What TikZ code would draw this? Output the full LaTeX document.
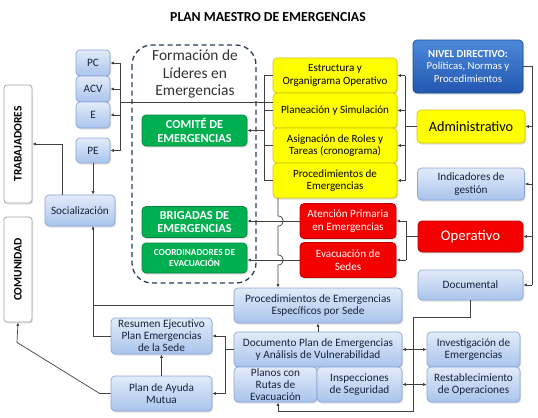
\documentclass[tikz,border=0pt]{standalone}
\usepackage{fontspec}
\setmainfont{Carlito}
\usetikzlibrary{arrows.meta,shadows,calc}
\definecolor{bltop}{HTML}{E2EBF9}
\definecolor{blbot}{HTML}{A9C4EC}
\definecolor{blbd}{HTML}{8AA6D6}
\definecolor{bltx}{HTML}{17233D}
\definecolor{yel}{HTML}{FFFF00}
\definecolor{yelbd}{HTML}{D2C800}
\definecolor{redf}{HTML}{F50000}
\definecolor{redbd}{HTML}{B80000}
\definecolor{grn}{HTML}{00B050}
\definecolor{grnbd}{HTML}{00853A}
\definecolor{navtop}{HTML}{4C88DA}
\definecolor{navbot}{HTML}{2257B0}
\definecolor{navbd}{HTML}{1F4A90}
\definecolor{ln}{HTML}{404040}
\definecolor{dsh}{HTML}{2B3F5F}
\tikzset{
  fnt/.style={font=\fontsize{#1}{12.5}\selectfont},
  box/.style={rounded corners=4bp, align=center, inner sep=1bp, line width=0.7bp,
    drop shadow={shadow xshift=1bp, shadow yshift=-1.5bp, opacity=0.25}},
  bl/.style={box, draw=blbd, top color=bltop, bottom color=blbot, text=bltx, fnt=11.3},
  yl/.style={box, draw=yelbd, fill=yel, text=black, fnt=11.1},
  rd/.style={box, draw=redbd, fill=redf, text=white, fnt=11.2},
  gr/.style={box, draw=grnbd, fill=grn, text=white, font=\fontsize{12.3}{13.5}\bfseries},
  nv/.style={box, draw=navbd, top color=navtop, bottom color=navbot, text=white, fnt=10.8},
  wb/.style={rounded corners=3bp, draw=gray!70, line width=0.8bp, fill=white, inner sep=0bp,
    drop shadow={shadow xshift=1bp, shadow yshift=-1.5bp, opacity=0.2}},
  con/.style={draw=ln, line width=0.7bp},
  arr/.style={con, -{Latex[length=3.5bp,width=3.2bp]}},
  darr/.style={con, {Latex[length=3.5bp,width=3.2bp]}-{Latex[length=3.5bp,width=3.2bp]}},
  sz/.style 2 args={minimum width=#1bp, minimum height=#2bp}
}
\begin{document}
\begin{tikzpicture}[x=1bp,y=-1bp]
\useasboundingbox (0,0) rectangle (538,417);
\fill[white] (0,0) rectangle (538,417);

\node[font=\fontsize{13.8}{15}\bfseries] (title) at (268,17) {PLAN MAESTRO DE EMERGENCIAS};

% left
\node[wb, sz={28}{118}] (trab) at (18,144) {};
\node[rotate=90, font=\fontsize{11.5}{12}\bfseries] (trabt) at (trab.center) {TRABAJADORES};
\node[wb, sz={28}{105}] (comu) at (18,269.5) {};
\node[rotate=90, font=\fontsize{11.5}{12}\bfseries] (comut) at (comu.center) {COMUNIDAD};

\node[bl, sz={34}{26}] (pc) at (93,63) {PC};
\node[bl, sz={34}{26}] (acv) at (93,89) {ACV};
\node[bl, sz={34}{26}] (e) at (93,115) {E};
\node[bl, sz={34}{25}] (pe) at (93,150.5) {PE};
\node[bl, sz={70}{31}] (soc) at (80,210.5) {Socialización};

% dashed group
\draw[dsh, line width=1.3bp, dash pattern=on 5bp off 3.5bp, rounded corners=20bp] (132,45) rectangle (256,283);
\node[text=black!80, font=\fontsize{15.5}{17.5}\selectfont, align=center] (form) at (195,74) {Formación de\\Líderes en\\Emergencias};
\node[gr, sz={105}{31}] (comite) at (194.5,130.5) {COMITÉ DE\\EMERGENCIAS};
\node[gr, sz={105}{31}] (brig) at (194.5,222) {BRIGADAS DE\\EMERGENCIAS};
\node[gr, sz={105}{30}, font=\fontsize{9.3}{12}\bfseries] (coord) at (194.5,258) {COORDINADORES DE\\EVACUACIÓN};

% yellow
\node[yl, sz={124}{35}] (estr) at (335,75.5) {Estructura y\\Organigrama Operativo};
\node[yl, sz={124}{35}] (plan) at (335,110.5) {Planeación y Simulación};
\node[yl, sz={124}{35}] (asig) at (335,145.5) {Asignación de Roles y\\Tareas (cronograma)};
\node[yl, sz={124}{35}] (proc) at (335,180.5) {Procedimientos de\\Emergencias};

% red
\node[rd, sz={96}{35}] (aten) at (348,221) {Atención Primaria\\en Emergencias};
\node[rd, sz={96}{35}] (evac) at (348,260) {Evacuación de\\Sedes};

% right column
\node[nv, sz={110}{53}] (nivel) at (468,66.5) {\textbf{NIVEL DIRECTIVO:}\\Políticas, Normas y\\Procedimientos};
\node[yl, sz={108}{33}, fnt=14.3] (admin) at (471,126.5) {Administrativo};
\node[bl, sz={107}{32}] (indic) at (471,184) {Indicadores de\\gestión};
\node[rd, sz={105}{31}, fnt=14.8] (oper) at (470.5,236.5) {Operativo};
\node[bl, sz={105}{30}] (docu) at (470.5,285) {Documental};

% bottom
\node[bl, sz={168}{35}] (pesp) at (318,305.5) {Procedimientos de Emergencias\\Específicos por Sede};
\node[bl, sz={168}{35}] (dplan) at (318,349.5) {Documento Plan de Emergencias\\y Análisis de Vulnerabilidad};
\node[bl, sz={83}{35}, font=\fontsize{11.3}{12}\selectfont] (planos) at (275.5,384.5) {Planos con\\Rutas de\\Evacuación};
\node[bl, sz={85}{35}] (insp) at (359.5,384.5) {Inspecciones\\de Seguridad};
\node[bl, sz={93}{35}] (invest) at (473.5,349.5) {Investigación de\\Emergencias};
\node[bl, sz={93}{35}] (restab) at (473.5,384.5) {Restablecimiento\\de Operaciones};
\node[bl, sz={101}{36}, font=\fontsize{11.3}{12}\selectfont] (resum) at (161.5,336) {Resumen Ejecutivo\\Plan Emergencias\\de la Sede};
\node[bl, sz={101}{35}] (ayuda) at (161.5,393.5) {Plan de Ayuda\\Mutua};

% bus coordinates
\coordinate (rbus) at (532,0);
\coordinate (abus) at (405,0);
\coordinate (obus) at (406,0);
\coordinate (ybus) at (264,0);
\coordinate (pbus) at (120,0);
\coordinate (sx) at (93,226);
\coordinate (dbus) at (225,0);
\coordinate (ylink) at (273,102);

% nivel directivo bus
\draw[con] (nivel.east) -| (docu.east -| rbus);
\draw[arr] (docu.east -| rbus) -- (docu.east);
\draw[arr] (admin.east -| rbus) -- (admin.east);
\draw[arr] (indic.east -| rbus) -- (indic.east);
\draw[arr] (oper.east -| rbus) -- (oper.east);

% administrativo bus
\draw[con] (admin.west) -- (admin.west -| abus);
\draw[con] (estr.east -| abus) -- (proc.east -| abus);
\foreach \n in {estr,plan,asig,proc} \draw[arr] (\n.east -| abus) -- (\n.east);

% operativo bus
\draw[con] (oper.west) -- (oper.west -| obus);
\draw[con] (aten.east -| obus) -- (evac.east -| obus);
\foreach \n in {aten,evac} \draw[arr] (\n.east -| obus) -- (\n.east);

% yellow left bus
\draw[con] (estr.west -| ybus) -- (proc.west -| ybus);
\foreach \n in {estr,plan,asig,proc} \draw[con] (\n.west -| ybus) -- (\n.west);
\draw[arr] (comite.east -| ybus) -- (comite.east);
\draw[con] (ylink) -- (ylink -| pbus);
\draw[con] (pc.east -| pbus) -- (pe.east -| pbus);
\foreach \n in {pc,acv,e,pe} \draw[arr] (\n.east -| pbus) -- (\n.east);

% red to green
\draw[arr] (aten.west) -- (aten.west -| brig.east);
\draw[arr] (evac.west) -- (evac.west -| coord.east);

% vertical with hops
\coordinate (vtop) at (278,198);
\draw[arr] (vtop) -- (278,216)
  .. controls (285,216) and (285,226) .. (278,226)
  -- (278,255) .. controls (285,255) and (285,265) .. (278,265)
  -- (vtop |- pesp.north);

% left side links
\draw[arr] (pesp.west) -| (sx);
\draw[con] (resum.west) -| (sx |- pesp.west);
\draw[arr] (pe.south) -- (pe.south |- soc.north);
\draw[arr] ($(soc.north)+(-18,0)$) |- (trab.east);
\draw[arr] (ayuda.west) -- ++(-11,0) -- ($(comu.south)+(-1,20)$) -- (comu.south);
\draw[arr] (ayuda.north) -- (resum.south);

% documento links
\draw[con] (dplan.west) -- (dplan.west -| dbus);
\draw[con] (resum.east -| dbus) -- (ayuda.east -| dbus);
\draw[arr] (resum.east -| dbus) -- (resum.east);
\draw[arr] (ayuda.east -| dbus) -- (ayuda.east);
\draw[arr] (dplan.north) -- (pesp.south);
\draw[darr] (dplan.east) -- (invest.west);
\draw[darr] (insp.east) -- (restab.west);

% documental
\draw[arr] (docu.south) -- ++(0,17) -| (413,411) -| ($(planos.south)+(2.5,0)$);
\end{tikzpicture}
\end{document}
